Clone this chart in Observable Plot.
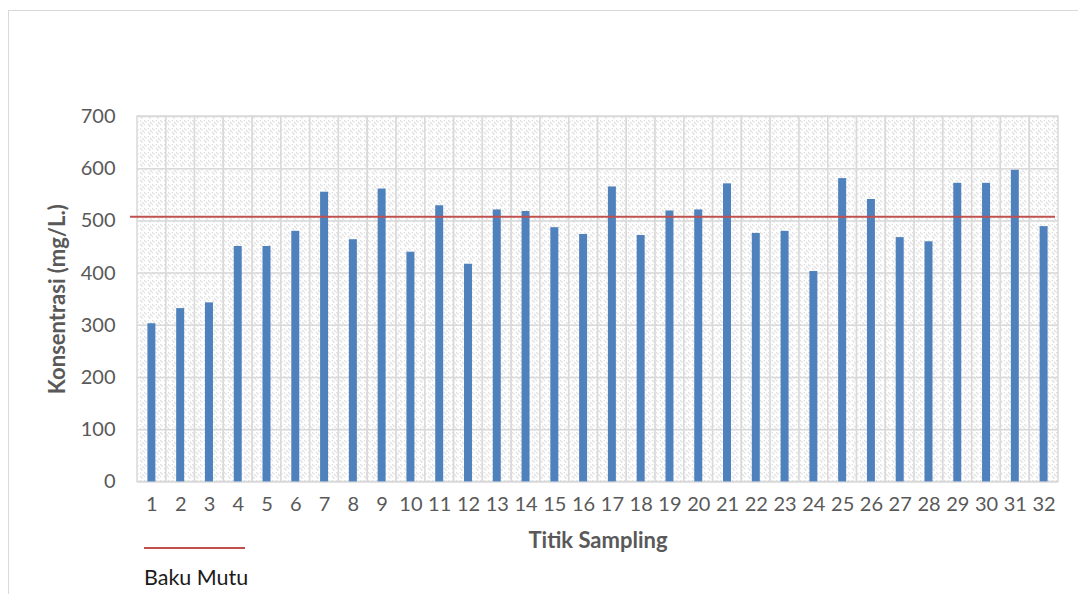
<!DOCTYPE html>
<html>
<head>
<meta charset="utf-8">
<script src="https://cdn.jsdelivr.net/npm/d3@7"></script>
<script src="https://cdn.jsdelivr.net/npm/@observablehq/plot@0.6"></script>
<style>
  body { margin: 0; background: #fff; font-family: Lato, "Open Sans", sans-serif; }
  #wrap { position: relative; width: 1078px; height: 594px; overflow: hidden; }
  #frameBorder { position: absolute; left: 8px; top: 10px; width: 1200px; height: 800px;
    border-left: 1.5px solid #d9d9d9; border-top: 1.5px solid #d9d9d9; box-sizing: border-box; }
  #chart { position: absolute; left: 0; top: 0; }
  #legend { position: absolute; left: 144px; top: 547px; }
  #legend .swatch { width: 101px; height: 2px; background: #c0504d; }
  #legend .lab { margin-top: 15px; font-size: 21.5px; line-height: 26px; color: #1a1a1a; font-family: Lato, sans-serif; }
  g[aria-label="x-axis label"] text, g[aria-label="y-axis label"] text { font-weight: 700; font-size: 22px; }
</style>
</head>
<body>
<div id="wrap">
  <div id="frameBorder"></div>
  <div id="chart"></div>
  <div id="legend"><div class="swatch"></div><div class="lab">Baku Mutu</div></div>
</div>
<script>
// Titik sampling (categories)
const samplingPoints = ["1","2","3","4","5","6","7","8","9","10","11","12","13","14","15","16",
  "17","18","19","20","21","22","23","24","25","26","27","28","29","30","31","32"];
// Konsentrasi (mg/L.)
const concentration = [303, 332, 343, 451, 451, 480, 555, 464, 561, 440, 529, 417, 521, 518, 487, 474,
  565, 472, 519, 521, 571, 476, 480, 403, 581, 541, 468, 460, 572, 572, 597, 489];
// Baku Mutu (standard)
const bakuMutu = [508];
// Y tick labels
const yTicks = [0, 100, 200, 300, 400, 500, 600, 700];

const table = samplingPoints.map((p, i) => ({p, v: concentration[i]}));
const yMax = d3.max(yTicks);

const svg = Plot.plot({
  width: 1078,
  height: 594,
  marginLeft: 137,
  marginRight: 20,
  marginTop: 116,
  marginBottom: 112.6,
  style: { fontFamily: "Lato, 'Open Sans', sans-serif", fontSize: "20px", color: "#595959", background: "transparent", overflow: "visible" },
  x: { domain: samplingPoints, padding: 0, paddingInner: 0, paddingOuter: 0, align: 0.5, round: false, label: "Titik Sampling" },
  y: { domain: [0, yMax], ticks: yTicks, label: "Konsentrasi (mg/L.)" },
  marks: [
    Plot.barY(samplingPoints, { x: d => d, y1: 0, y2: yMax, fill: "url(#hatch)", stroke: "#d9d9d9", strokeWidth: 1.5 }),
    Plot.gridY(yTicks, { stroke: "#d9d9d9", strokeOpacity: 1, strokeWidth: 1.5 }),
    Plot.barY(table, { x: "p", y: "v", fill: "#4f81bd", insetLeft: 10.4, insetRight: 10.4 }),
    Plot.ruleY(bakuMutu, { stroke: "#c0504d", strokeWidth: 2, insetLeft: -7, insetRight: 3 }),
    Plot.axisX({ tickSize: 0, tickPadding: 15, label: "Titik Sampling", labelArrow: false, labelAnchor: "center", labelOffset: 66 }),
    Plot.axisY({ ticks: yTicks, tickSize: 0, tickPadding: 22, label: "Konsentrasi (mg/L.)", labelArrow: false, labelAnchor: "center", labelOffset: 88 })
  ]
});

d3.select(svg).insert("defs", ":first-child").html(
  `<pattern id="hatch" width="8" height="8" patternUnits="userSpaceOnUse">
     <rect width="8" height="8" fill="#ffffff"/>
     <path d="M0,0 L2.5,2.5 M4,4 L6.5,6.5 M4,0 L5,1 M0,4 L1,5 M6,2 L8,4" stroke="#dedede" stroke-width="1.1" fill="none"/>
   </pattern>`
);

document.getElementById("chart").appendChild(svg);
</script>
</body>
</html>
